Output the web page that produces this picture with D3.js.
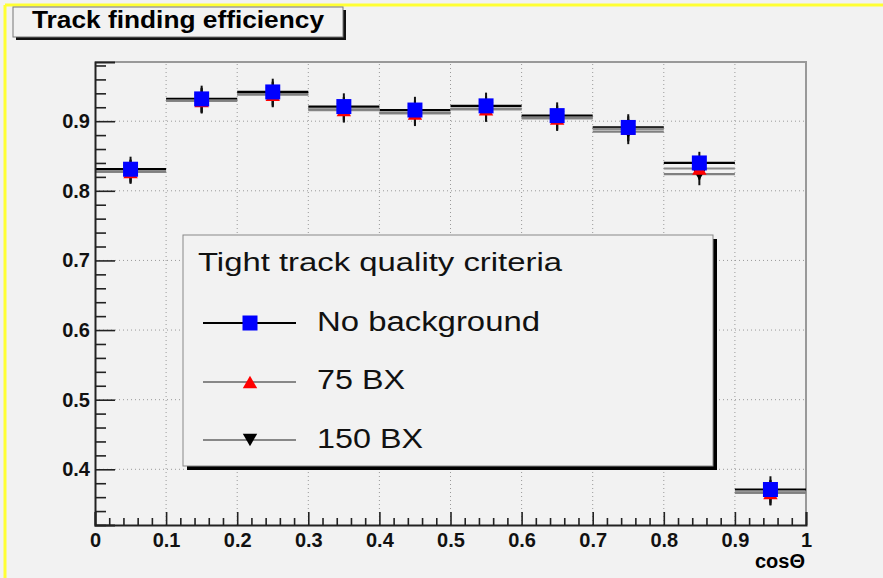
<!DOCTYPE html>
<html>
<head>
<meta charset="utf-8">
<script src="https://cdn.jsdelivr.net/npm/d3@7"></script>
<style>
  html, body { margin: 0; padding: 0; background: #f2f2f2; }
  svg { display: block; font-family: "Liberation Sans", Arial, Helvetica, sans-serif; }
</style>
</head>
<body>
<div id="chart"></div>
<script>
// bins in cos(theta), lower edges, width 0.1
const binLow = [0, 0.1, 0.2, 0.3, 0.4, 0.5, 0.6, 0.7, 0.8, 0.9];
const binWidth = 0.1;

// efficiencies and errors per series
const effNoBg = [0.831, 0.932, 0.942, 0.921, 0.916, 0.922, 0.908, 0.891, 0.840, 0.371];
const errNoBg = [0.018, 0.019, 0.019, 0.019, 0.019, 0.019, 0.019, 0.019, 0.016, 0.019];
const eff75 = [0.827, 0.929, 0.938, 0.916, 0.911, 0.917, 0.904, 0.889, 0.832, 0.366];
const err75 = [0.017, 0.018, 0.018, 0.018, 0.018, 0.018, 0.018, 0.018, 0.016, 0.018];
const eff150 = [0.828, 0.930, 0.939, 0.917, 0.912, 0.918, 0.905, 0.885, 0.824, 0.367];
const err150 = [0.017, 0.018, 0.018, 0.018, 0.018, 0.018, 0.018, 0.018, 0.016, 0.018];

const xTicks = [0, 0.1, 0.2, 0.3, 0.4, 0.5, 0.6, 0.7, 0.8, 0.9, 1];
const yTicks = [0.4, 0.5, 0.6, 0.7, 0.8, 0.9];

const seriesNames = ['No background', '75 BX', '150 BX'];
const legendHeader = 'Tight track quality criteria';

const W = 883, H = 578;

const svg = d3.select('#chart').append('svg')
    .attr('width', W)
    .attr('height', H);

svg.append('rect').attr('width', W).attr('height', H).attr('fill', '#f2f2f2');

// yellow pad border (top and left)
svg.append('line').attr('x1', 5).attr('x2', W).attr('y1', 5).attr('y2', 5)
    .attr('stroke', '#ffff33').attr('stroke-width', 3);
svg.append('line').attr('x1', 5).attr('x2', 5).attr('y1', 5).attr('y2', H)
    .attr('stroke', '#ffff33').attr('stroke-width', 3);

// scales
const x = d3.scaleLinear().domain([0, 1]).range([95, 806]);
const y = d3.scaleLinear().domain([0.32, 0.985]).range([525, 62]);

// title box
svg.append('rect').attr('x', 16).attr('y', 10).attr('width', 330).attr('height', 30).attr('fill', '#111');
svg.append('rect').attr('x', 13).attr('y', 7).attr('width', 330).attr('height', 30)
    .attr('fill', '#f2f2f2').attr('stroke', '#777').attr('stroke-width', 1);
svg.append('text')
    .attr('x', 178).attr('y', 28)
    .attr('text-anchor', 'middle')
    .attr('font-size', 24).attr('font-weight', 'bold')
    .attr('textLength', 292).attr('lengthAdjust', 'spacingAndGlyphs')
    .text('Track finding efficiency');

// grid
const grid = svg.append('g')
    .attr('stroke', '#999').attr('stroke-width', 1).attr('stroke-dasharray', '1,3');
grid.selectAll('.gx').data(xTicks.slice(1, -1)).join('line')
    .attr('x1', d => x(d)).attr('x2', d => x(d))
    .attr('y1', y.range()[0]).attr('y2', y.range()[1]);
grid.selectAll('.gy').data(yTicks).join('line')
    .attr('x1', x(0)).attr('x2', x(1))
    .attr('y1', d => y(d)).attr('y2', d => y(d));

// frame top and right
svg.append('path')
    .attr('d', `M${x(0)},${y.range()[1]}H${x(1)}V${y.range()[0]}`)
    .attr('fill', 'none').attr('stroke', '#999').attr('stroke-width', 2);

// data, drawn 150 BX, 75 BX, then no background on top
const series = [
    { name: seriesNames[2], eff: eff150, err: err150, line: '#808080', marker: '#000', shape: 'down' },
    { name: seriesNames[1], eff: eff75, err: err75, line: '#8a8a8a', marker: '#ff0000', shape: 'up' },
    { name: seriesNames[0], eff: effNoBg, err: errNoBg, line: '#000', marker: '#0000ff', shape: 'square' }
];

const triArea = 90;
const triH = Math.sqrt(triArea * 4 / Math.sqrt(3)) * Math.sqrt(3) / 2;
const triUp = d3.symbol(d3.symbolTriangle, triArea);
const square = d3.symbol(d3.symbolSquare, 225);

// markers centred on their bounding box, like ROOT does
function marker(sel, s) {
    if (s.shape === 'square') {
        sel.attr('d', square());
    } else if (s.shape === 'up') {
        sel.attr('d', triUp()).attr('transform', function() {
            return d3.select(this).attr('transform') + ` translate(0,${triH / 6})`;
        });
    } else {
        sel.attr('d', triUp()).attr('transform', function() {
            return d3.select(this).attr('transform') + ` translate(0,${-triH / 6}) rotate(180)`;
        });
    }
    sel.attr('fill', s.marker);
}

const dataG = svg.append('g');

// horizontal bin lines (black first, gray over it)
[series[2], series[1], series[0]].forEach(s => {
    dataG.append('g').selectAll('line')
        .data(binLow.map((b, i) => ({ b, v: s.eff[i] })))
        .join('line')
        .attr('x1', d => x(d.b)).attr('x2', d => x(d.b + binWidth))
        .attr('y1', d => y(d.v)).attr('y2', d => y(d.v))
        .attr('stroke', s.line).attr('stroke-width', 2.2);
});

// vertical error bars
series.forEach(s => {
    dataG.append('g').selectAll('line')
        .data(binLow.map((b, i) => ({ b, v: s.eff[i], e: s.err[i] })))
        .join('line')
        .attr('x1', d => x(d.b + binWidth / 2)).attr('x2', d => x(d.b + binWidth / 2))
        .attr('y1', d => y(d.v - d.e)).attr('y2', d => y(d.v + d.e))
        .attr('stroke', '#111').attr('stroke-width', 2);
});

// markers
series.forEach(s => {
    dataG.append('g').selectAll('path')
        .data(binLow.map((b, i) => ({ b, v: s.eff[i] })))
        .join('path')
        .attr('transform', d => `translate(${x(d.b + binWidth / 2)},${y(d.v)})`)
        .call(marker, s);
});

// axes
const yMinor = d3.range(16, 50).filter(i => i % 5 !== 0).map(i => i / 50);
const xMinor = d3.range(0, 51).filter(i => i % 5 !== 0).map(i => i / 50);

svg.append('g').attr('transform', `translate(${x(0)},0)`)
    .call(d3.axisLeft(y).tickValues(yTicks).tickSize(-20).tickPadding(5)
        .tickFormat(d3.format('.1f')));
svg.append('g').attr('transform', `translate(${x(0)},0)`)
    .call(d3.axisLeft(y).tickValues(yMinor).tickSize(-11).tickFormat(''))
    .call(g => g.select('.domain').remove());

svg.append('g').attr('transform', `translate(0,${y.range()[0]})`)
    .call(d3.axisBottom(x).tickValues(xTicks).tickSize(-13).tickPadding(8)
        .tickFormat(d3.format('~g')));
svg.append('g').attr('transform', `translate(0,${y.range()[0]})`)
    .call(d3.axisBottom(x).tickValues(xMinor).tickSize(-7).tickFormat(''))
    .call(g => g.select('.domain').remove());

svg.selectAll('.domain').attr('stroke', '#222').attr('stroke-width', 2);
svg.selectAll('.tick line').attr('stroke', '#222').attr('stroke-width', 1.6);
svg.selectAll('.tick text')
    .attr('font-family', '"Liberation Sans", Arial, Helvetica, sans-serif')
    .attr('font-size', 20).attr('font-weight', 'bold').attr('fill', '#111');

svg.append('text')
    .attr('x', 805).attr('y', 568)
    .attr('text-anchor', 'end')
    .attr('font-size', 20).attr('font-weight', 'bold')
    .text('cosΘ');

// legend
const lg = svg.append('g');
lg.append('rect').attr('x', 187).attr('y', 239).attr('width', 530).attr('height', 231).attr('fill', '#000');
lg.append('rect').attr('x', 183).attr('y', 235).attr('width', 530).attr('height', 231)
    .attr('fill', '#f2f2f2').attr('stroke', '#888').attr('stroke-width', 1);

lg.append('text')
    .attr('x', 198).attr('y', 271)
    .attr('font-size', 26)
    .attr('textLength', 364).attr('lengthAdjust', 'spacingAndGlyphs')
    .attr('fill', '#111')
    .text(legendHeader);

// legend order: no background, 75 BX, 150 BX
const legendRows = [
    { s: series[2], y: 323, ty: 331, len: 223 },
    { s: series[1], y: 382, ty: 389, len: 88 },
    { s: series[0], y: 440, ty: 448, len: 106 }
];

legendRows.forEach(r => {
    lg.append('line')
        .attr('x1', 203).attr('x2', 296).attr('y1', r.y).attr('y2', r.y)
        .attr('stroke', r.s.shape === 'square' ? '#000' : '#888').attr('stroke-width', 2);
    lg.append('path')
        .attr('transform', `translate(250,${r.y})`)
        .call(marker, r.s);
    lg.append('text')
        .attr('x', 317).attr('y', r.ty)
        .attr('font-size', 27)
        .attr('textLength', r.len).attr('lengthAdjust', 'spacingAndGlyphs')
        .attr('fill', '#111')
        .text(r.s.name);
});
</script>
</body>
</html>
